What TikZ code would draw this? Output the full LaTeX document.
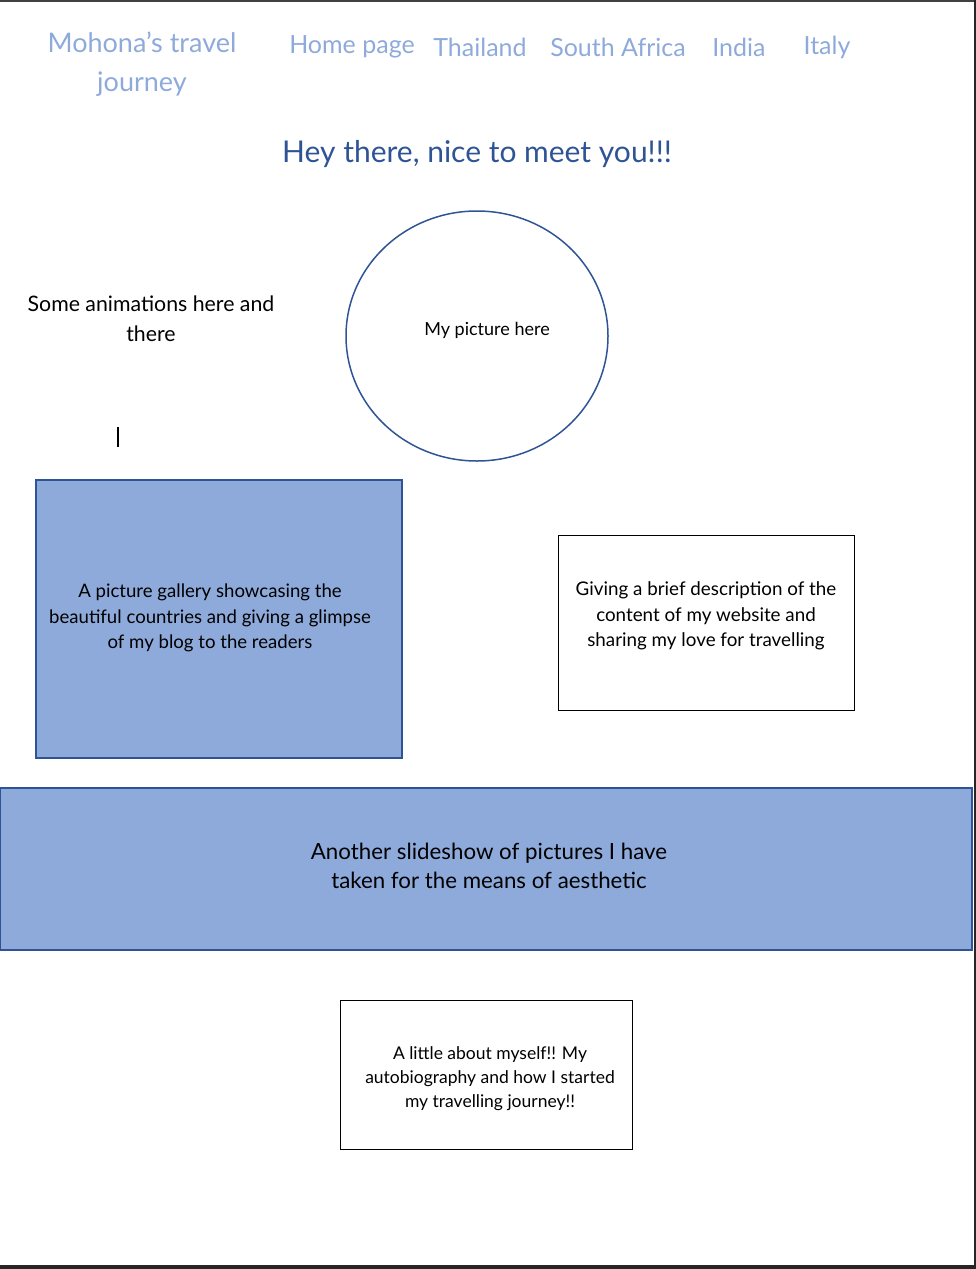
\documentclass[tikz,border=0pt]{standalone}
\usepackage{fontspec}
\setmainfont{Lato}
\usetikzlibrary{positioning,shapes.geometric}
\definecolor{lightblue}{HTML}{8EAADB}
\definecolor{darkblue}{HTML}{2F5496}
\begin{document}
\begin{tikzpicture}[x=1pt,y=-1pt,
    menu/.style={text=lightblue,font=\fontsize{25}{39}\selectfont,inner sep=0pt,align=center},
    txt/.style={align=center,inner sep=0pt},
    block/.style={draw=darkblue,fill=lightblue,line width=1.2pt},
    plainbox/.style={draw=black,fill=white,line width=0.8pt}]
  \useasboundingbox (0,0) rectangle (976,1269);
  % page edges
  \fill[black!75] (0,0) rectangle (976,2);
  \fill[black!85] (973.5,0) rectangle (976,1269);
  \fill[black!85] (0,1265) rectangle (976,1269);

  % header
  \node[menu,font=\fontsize{27}{39}\selectfont] (logo) at (142,64) {Mohona’s travel\\journey};
  \node[menu] (home) at (352,47) {Home page};
  \node[menu] (thai) at (480,47) {Thailand};
  \node[menu] (sa) at (618,47) {South Africa};
  \node[menu] (india) at (739,47) {India};
  \node[menu] (italy) at (827,47) {Italy};
  \node[txt,text=darkblue,font=\fontsize{30}{34}\selectfont] (hello) at (477,154) {Hey there, nice to meet you!!!};

  % picture and animations
  \node[ellipse,draw=darkblue,line width=1.5pt,minimum width=262,minimum height=250] (pic) at (477,336) {};
  \node[txt,font=\fontsize{18}{22}\selectfont] (pictxt) at (487,330) {My picture here};
  \node[txt,font=\fontsize{21.3}{30}\selectfont] (anim) at (151,319) {Some animations here and\\there};
  \draw[line width=1.2pt] (118,427) -- (118,447);

  % boxes
  \node[block,minimum width=366,minimum height=278] (gallery) at (219,619) {};
  \node[txt,font=\fontsize{18.6}{25.5}\selectfont] (gallerytxt) at (210,618)
    {A picture gallery showcasing the\\beautiful countries and giving a glimpse\\of my blog to the readers};
  \node[plainbox,minimum width=296,minimum height=175] (desc) at (706,622.5) {};
  \node[txt,font=\fontsize{18.8}{25.5}\selectfont] (desctxt) at (706,616)
    {Giving a brief description of the\\content of my website and\\sharing my love for travelling};
  \node[block,minimum width=972,minimum height=162] (slides) at (486,869) {};
  \node[txt,font=\fontsize{22.3}{29}\selectfont] (slidestxt) at (489,866)
    {Another slideshow of pictures I have\\taken for the means of aesthetic};
  \node[plainbox,minimum width=292,minimum height=149] (about) at (486,1074.5) {};
  \node[txt,font=\fontsize{17.5}{24}\selectfont] (abouttxt) at (490,1079)
    {A little about myself!! My\\autobiography and how I started\\my travelling journey!!};
\end{tikzpicture}
\end{document}
